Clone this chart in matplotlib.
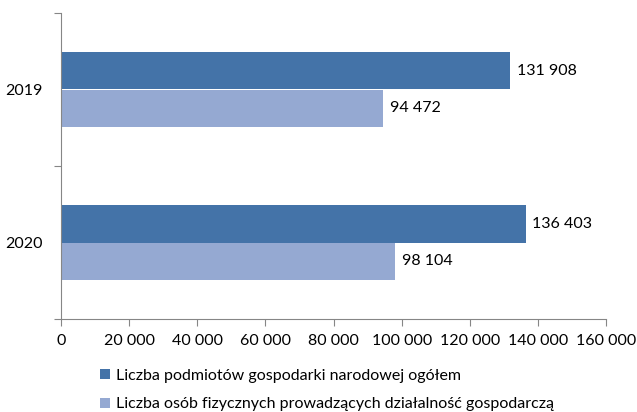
import matplotlib.pyplot as plt
import numpy as np
from matplotlib.patches import Patch

years = ['2019', '2020']
podmioty = [131908, 136403]
osoby = [94472, 98104]
series_names = ['Liczba podmiotów gospodarki narodowej ogółem',
                'Liczba osób fizycznych prowadzących działalność gospodarczą']
colors = ['#4473A8', '#95A9D2']

plt.rcParams['font.family'] = ['Lato', 'DejaVu Sans']


def fmt(v):
    return f'{v:,.0f}'.replace(',', ' ')


fig = plt.figure(figsize=(6.37, 4.12), dpi=100)
ax = fig.add_axes([61 / 637, 1 - 319 / 412, 545 / 637, 306 / 412])

y = np.arange(len(years))
h = 0.248
b1 = ax.barh(y - h / 2, podmioty, height=h, color=colors[0])
b2 = ax.barh(y + h / 2, osoby, height=h, color=colors[1])

for bars, vals in ((b1, podmioty), (b2, osoby)):
    for bar, v in zip(bars, vals):
        ax.text(v + 2000, bar.get_y() + bar.get_height() / 2, fmt(v),
                va='center', ha='left', fontsize=11.5, color='#000000')

ax.set_xlim(0, 160000)
ax.set_ylim(1.5, -0.5)
ax.set_xticks(np.arange(0, 160001, 20000))
ax.set_xticklabels([fmt(v) for v in np.arange(0, 160001, 20000)], fontsize=11.5)
ax.set_yticks([-0.5, 0.5, 1.5])
ax.set_yticklabels([])
ax.set_yticks(y, minor=True)
ax.set_yticklabels(years, minor=True, fontsize=11.5)
ax.tick_params(axis='y', which='minor', length=0, pad=13)
ax.tick_params(axis='y', which='major', length=5, color='#868686')
ax.tick_params(axis='x', length=5, color='#868686', pad=6)

for s in ['top', 'right']:
    ax.spines[s].set_visible(False)
for s in ['left', 'bottom']:
    ax.spines[s].set_color('#868686')

handles = [Patch(facecolor=c, label=n) for c, n in zip(colors, series_names)]
fig.legend(handles=handles, loc='upper left', bbox_to_anchor=(100 / 637, 1 - 369 / 412),
           frameon=False, fontsize=11.5, handlelength=0.6, handleheight=0.6,
           handletextpad=0.4, labelspacing=0.9, borderpad=0, borderaxespad=0)

fig.savefig('out.png', dpi=100)
